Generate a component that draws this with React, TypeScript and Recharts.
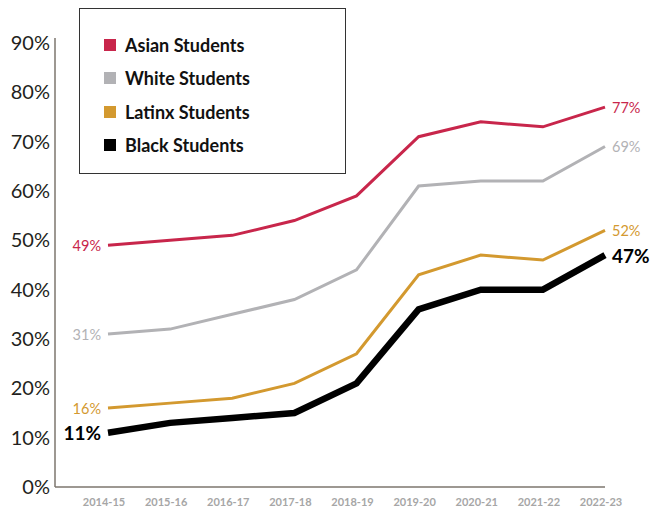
import { LabelList, Line, LineChart, XAxis, YAxis } from "recharts";

const years = ["2014-15", "2015-16", "2016-17", "2017-18", "2018-19", "2019-20", "2020-21", "2021-22", "2022-23"];
const asian = [49, 50, 51, 54, 59, 71, 74, 73, 77];
const white = [31, 32, 35, 38, 44, 61, 62, 62, 69];
const latinx = [16, 17, 18, 21, 27, 43, 47, 46, 52];
const black = [11, 13, 14, 15, 21, 36, 40, 40, 47];
const yTicks = [0, 10, 20, 30, 40, 50, 60, 70, 80, 90];

const SERIES = [
  { key: "asian", name: "Asian Students", color: "#c8264b", width: 3, bold: false },
  { key: "white", name: "White Students", color: "#b2b2b5", width: 3, bold: false },
  { key: "latinx", name: "Latinx Students", color: "#d3992f", width: 3, bold: false },
  { key: "black", name: "Black Students", color: "#000000", width: 6.5, bold: true },
];

const rows = years.map((year, i) => ({
  year,
  asian: asian[i],
  white: white[i],
  latinx: latinx[i],
  black: black[i],
}));

const FONT = "Lato, 'Open Sans', sans-serif";

function endLabel(color: string, bold: boolean) {
  return (props: any) => {
    const { x, y, index, value } = props;
    const last = index === years.length - 1;
    if (index !== 0 && !last) return null;
    return (
      <text
        x={last ? x + 7 : x - 7}
        y={y}
        textAnchor={last ? "start" : "end"}
        dominantBaseline="central"
        fill={color}
        fontFamily={FONT}
        fontSize={bold ? 19 : 14.5}
        fontWeight={bold ? 700 : 400}
      >
        {value}%
      </text>
    );
  };
}

// legend is a plain box laid over the chart, so it doesn't eat plot space
function LegendBox() {
  return (
    <div
      style={{
        position: "absolute",
        left: 79,
        top: 8,
        boxSizing: "border-box",
        width: 267,
        height: 166,
        border: "1.5px solid #333",
        background: "#fff",
        paddingTop: 19,
        paddingLeft: 24,
        fontFamily: FONT,
      }}
    >
      {SERIES.map((s) => (
        <div key={s.key} style={{ height: 33.5, display: "flex", alignItems: "center" }}>
          <span style={{ width: 12, height: 12, background: s.color, marginRight: 9 }} />
          <span style={{ fontSize: 18, fontWeight: 700, color: "#111" }}>{s.name}</span>
        </div>
      ))}
    </div>
  );
}

export default function App() {
  return (
    <div style={{ position: "absolute", left: 0, top: 0, width: 650, height: 510, background: "#fff" }}>
      <LineChart width={650} height={510} data={rows} margin={{ top: 38, right: 45, bottom: 3, left: 5 }}>
        <XAxis
          dataKey="year"
          padding={{ left: 53, right: 0 }}
          axisLine={{ stroke: "#7d766e", strokeWidth: 1.5 }}
          tickLine={false}
          tickMargin={5}
          height={20}
          interval={0}
          tick={{ fill: "#a6a6a6", fontSize: 11, fontFamily: FONT, fontWeight: 700, dx: -4 }}
        />
        <YAxis
          domain={[0, 91]}
          ticks={yTicks}
          tickFormatter={(v: number) => `${v}%`}
          width={50}
          axisLine={{ stroke: "#7d766e", strokeWidth: 1.5 }}
          tickLine={false}
          tickSize={5}
          tickMargin={0}
          tick={{ fill: "#231f20", fontSize: 20, fontFamily: FONT }}
        />
        {SERIES.map((s) => (
          <Line
            key={s.key}
            type="linear"
            dataKey={s.key}
            name={s.name}
            stroke={s.color}
            strokeWidth={s.width}
            dot={false}
            isAnimationActive={false}
          >
            <LabelList dataKey={s.key} content={endLabel(s.color, s.bold)} />
          </Line>
        ))}
      </LineChart>
      <LegendBox />
    </div>
  );
}
